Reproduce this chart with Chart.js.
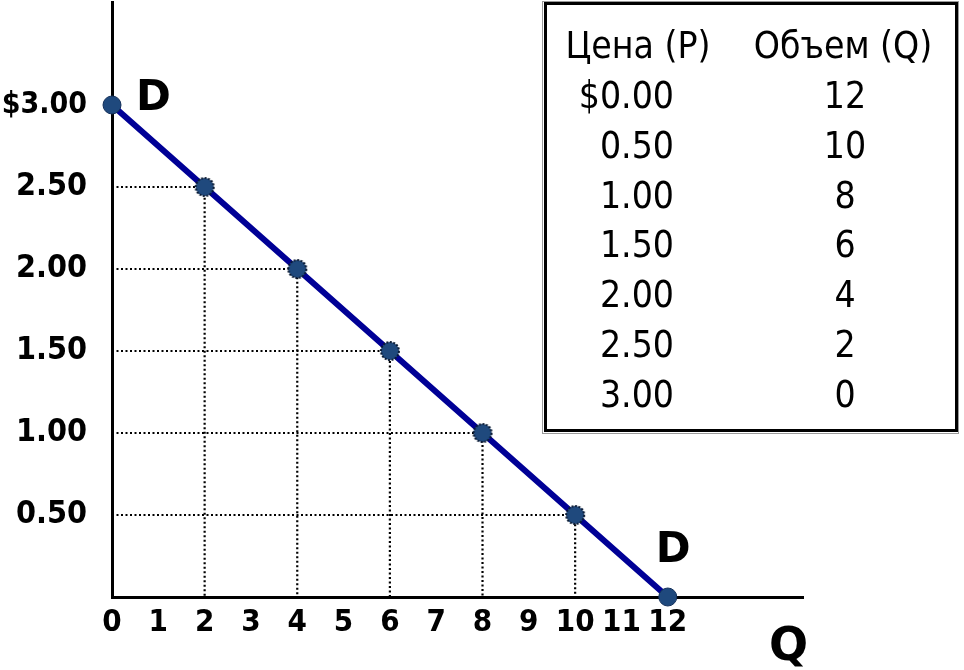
<!DOCTYPE html>
<html>
<head>
<meta charset="utf-8">
<script src="https://cdn.jsdelivr.net/npm/chart.js@4.4.0/dist/chart.umd.min.js"></script>
<style>
  html, body { margin: 0; padding: 0; background: #ffffff; }
  #wrap { width: 964px; height: 670px; position: relative; }
</style>
</head>
<body>
<div id="wrap"><canvas id="c" width="964" height="670"></canvas></div>
<script>
// ---- data ----
const prices = [0, 0.5, 1, 1.5, 2, 2.5, 3];
const quantities = [12, 10, 8, 6, 4, 2, 0];
const priceLabels = ['$0.00', '0.50', '1.00', '1.50', '2.00', '2.50', '3.00'];
const quantityLabels = ['12', '10', '8', '6', '4', '2', '0'];
const tableHeaders = ['Цена (P)', 'Объем (Q)'];
const xTickValues = [0, 1, 2, 3, 4, 5, 6, 7, 8, 9, 10, 11, 12];
const xTickLabels = ['0', '1', '2', '3', '4', '5', '6', '7', '8', '9', '10', '11', '12'];
const yTickValues = [0.5, 1, 1.5, 2, 2.5, 3];
const yTickLabels = ['0.50', '1.00', '1.50', '2.00', '2.50', '$3.00'];
const curveLabel = 'D';
const xAxisLabel = 'Q';

// ---- styling helpers ----
const DOT_FILL = '#1F497D';
function dottedDot(r) {
  const s = 2 * r + 4;
  const c = document.createElement('canvas');
  c.width = s; c.height = s;
  const g = c.getContext('2d');
  g.beginPath();
  g.arc(s / 2, s / 2, r, 0, 2 * Math.PI);
  g.fillStyle = DOT_FILL;
  g.fill();
  g.setLineDash([2, 1.5]);
  g.lineWidth = 2;
  g.strokeStyle = '#0a1a33';
  g.stroke();
  return c;
}
const dotImg = dottedDot(9);

// ---- datasets ----
const demandPoints = prices.map((p, i) => ({ x: quantities[i], y: p }));
const guideSets = prices
  .map((p, i) => ({ p, q: quantities[i] }))
  .filter(d => d.p > 0 && d.q > 0)
  .map(d => ({
    data: [{ x: 0, y: d.p }, { x: d.q, y: d.p }, { x: d.q, y: 0 }],
    borderColor: '#000000',
    borderWidth: 2.2,
    borderDash: [2, 2.5],
    pointRadius: 0,
    fill: false,
    tension: 0,
    clip: false
  }));

const datasets = [{
  data: demandPoints,
  borderColor: '#000096',
  borderWidth: 6,
  pointRadius: 9,
  pointStyle: demandPoints.map(d => (d.x === 0 || d.y === 0) ? 'circle' : dotImg),
  pointBackgroundColor: DOT_FILL,
  pointBorderColor: '#14305a',
  pointBorderWidth: 1,
  fill: false,
  tension: 0,
  clip: false
}].concat(guideSets);

const overlay = {
  id: 'overlay',
  afterDraw(chart) {
    const ctx = chart.ctx;
    const xs = chart.scales.x, ys = chart.scales.y;
    ctx.save();
    // D labels near curve ends
    ctx.fillStyle = '#000';
    ctx.font = 'bold 42px "DejaVu Sans"';
    ctx.textAlign = 'left';
    ctx.textBaseline = 'alphabetic';
    const top = demandPoints.find(d => d.x === 0);
    const bot = demandPoints.find(d => d.y === 0);
    ctx.fillText(curveLabel, xs.getPixelForValue(top.x) + 24, ys.getPixelForValue(top.y) + 5);
    ctx.fillText(curveLabel, xs.getPixelForValue(bot.x) - 12, ys.getPixelForValue(bot.y) - 35);
    // axis title Q
    ctx.font = 'bold 46px "DejaVu Sans"';
    ctx.fillText(xAxisLabel, 769, 660);

    // table box
    ctx.strokeStyle = '#9a9a9a';
    ctx.lineWidth = 1;
    ctx.strokeRect(542.5, 1.5, 416, 432);
    ctx.strokeStyle = '#000';
    ctx.lineWidth = 3;
    ctx.strokeRect(545.5, 3.5, 411, 427);

    ctx.font = '37px "DejaVu Sans Condensed", "DejaVu Sans"';
    ctx.textAlign = 'center';
    ctx.fillText(tableHeaders[0], 638, 58);
    ctx.fillText(tableHeaders[1], 843, 58);
    for (let i = 0; i < priceLabels.length; i++) {
      const yb = 108 + i * 49.8;
      ctx.textAlign = 'right';
      ctx.fillText(priceLabels[i], 674, yb);
      ctx.textAlign = 'center';
      ctx.fillText(quantityLabels[i], 845, yb);
    }
    ctx.restore();
  }
};

new Chart(document.getElementById('c'), {
  type: 'line',
  data: { datasets },
  options: {
    responsive: false,
    animation: false,
    events: [],
    layout: { autoPadding: false, padding: { left: 0, top: 2, right: 161, bottom: 0 } },
    plugins: { legend: { display: false }, tooltip: { enabled: false } },
    scales: {
      x: {
        type: 'linear',
        min: 0,
        max: 14.92,
        afterBuildTicks: (s) => { s.ticks = xTickValues.map(v => ({ value: v })); },
        afterFit: (s) => { s.height = 73; s.paddingLeft = 0; s.paddingRight = 0; },
        grid: { display: false, drawTicks: false },
        border: { display: true, color: '#000', width: 3 },
        ticks: {
          padding: 7,
          color: '#000',
          autoSkip: false,
          maxRotation: 0,
          font: { family: '"DejaVu Sans Condensed", "DejaVu Sans"', weight: 'bold', size: 31 },
          callback: (v) => { const i = xTickValues.indexOf(v); return i >= 0 ? xTickLabels[i] : ''; }
        }
      },
      y: {
        type: 'linear',
        min: 0,
        max: 3.628,
        afterBuildTicks: (s) => { s.ticks = yTickValues.map(v => ({ value: v })); },
        afterFit: (s) => { s.width = 112; s.paddingTop = 0; s.paddingBottom = 0; },
        grid: { display: false, drawTicks: false },
        border: { display: true, color: '#000', width: 3 },
        ticks: {
          padding: 25,
          color: '#000',
          autoSkip: false,
          font: (c) => ({
            family: '"DejaVu Sans Condensed", "DejaVu Sans"',
            weight: 'bold',
            size: (c.tick && c.tick.value === 3) ? 30 : 32
          }),
          callback: (v) => { const i = yTickValues.indexOf(v); return i >= 0 ? yTickLabels[i] : ''; }
        }
      }
    }
  },
  plugins: [overlay]
});
</script>
</body>
</html>
